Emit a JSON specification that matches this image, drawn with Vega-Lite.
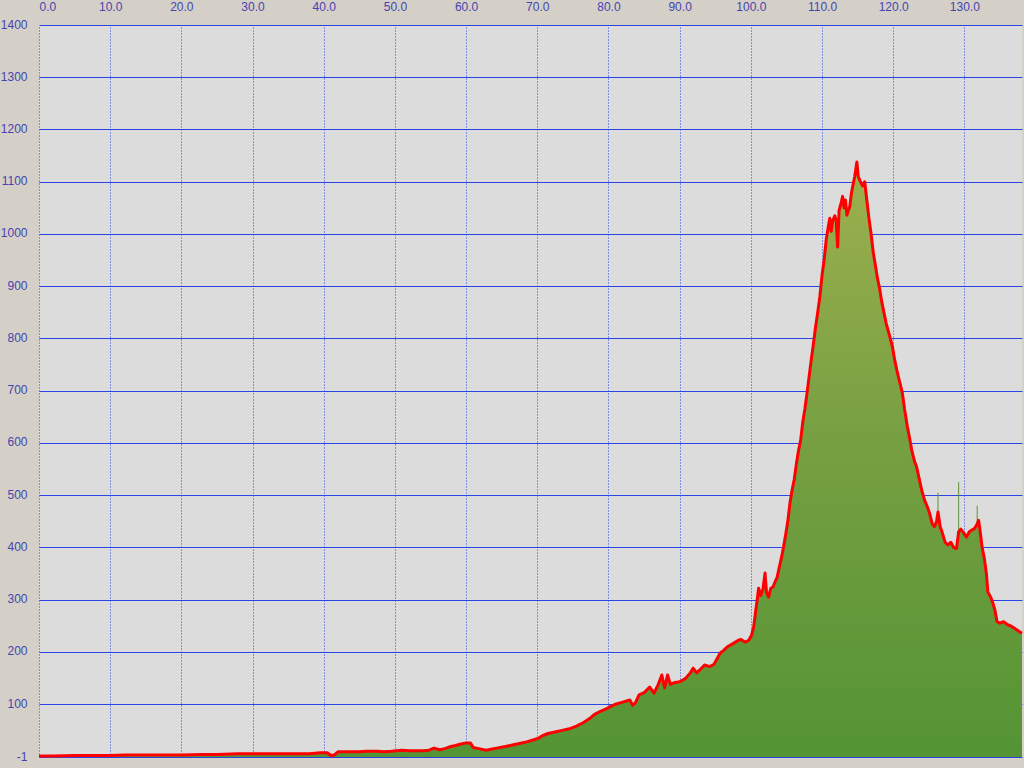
{
  "$schema": "https://vega.github.io/schema/vega-lite/v6.json",
  "width": 983,
  "height": 732,
  "autosize": {"type": "none"},
  "padding": {"left": 39, "top": 25, "right": 2, "bottom": 11},
  "background": "#d4d0c8",
  "config": {
    "view": {"fill": "#dcdcdc", "stroke": null},
    "axis": {
      "labelFont": "Liberation Sans",
      "labelFontSize": 12,
      "labelColor": "#4444b0",
      "domain": false,
      "ticks": false,
      "tickSize": 0,
      "grid": true,
      "gridColor": "#2a44e6",
      "gridOpacity": 1,
      "gridWidth": 1,
      "title": null
    }
  },
  "data": {
    "values": [
      {"km": 0.0, "elev": 1}, {"km": 2.0, "elev": 1}, {"km": 5.0, "elev": 2}, {"km": 8.0, "elev": 2},
      {"km": 10.0, "elev": 2}, {"km": 12.0, "elev": 3}, {"km": 15.0, "elev": 3}, {"km": 18.0, "elev": 3},
      {"km": 20.0, "elev": 3}, {"km": 23.0, "elev": 4}, {"km": 25.0, "elev": 4}, {"km": 28.0, "elev": 5},
      {"km": 30.0, "elev": 5}, {"km": 33.0, "elev": 5}, {"km": 35.0, "elev": 5}, {"km": 38.0, "elev": 5},
      {"km": 39.5, "elev": 7}, {"km": 40.5, "elev": 7}, {"km": 41.0, "elev": 2}, {"km": 41.5, "elev": 3},
      {"km": 42.0, "elev": 9}, {"km": 44.0, "elev": 9}, {"km": 45.0, "elev": 9}, {"km": 46.0, "elev": 10},
      {"km": 47.5, "elev": 10}, {"km": 48.5, "elev": 9}, {"km": 49.5, "elev": 10}, {"km": 50.2, "elev": 11},
      {"km": 51.0, "elev": 12}, {"km": 52.0, "elev": 11}, {"km": 53.0, "elev": 11}, {"km": 54.0, "elev": 11},
      {"km": 54.8, "elev": 12}, {"km": 55.5, "elev": 16}, {"km": 56.3, "elev": 13}, {"km": 57.0, "elev": 15},
      {"km": 57.6, "elev": 18}, {"km": 58.5, "elev": 21}, {"km": 59.3, "elev": 24}, {"km": 60.0, "elev": 26},
      {"km": 60.6, "elev": 26}, {"km": 61.0, "elev": 17}, {"km": 61.8, "elev": 15}, {"km": 62.8, "elev": 12},
      {"km": 63.5, "elev": 14}, {"km": 64.3, "elev": 16}, {"km": 65.5, "elev": 19}, {"km": 66.5, "elev": 22},
      {"km": 67.5, "elev": 25}, {"km": 68.5, "elev": 28}, {"km": 69.5, "elev": 32}, {"km": 70.2, "elev": 35},
      {"km": 70.6, "elev": 39}, {"km": 71.5, "elev": 44}, {"km": 72.5, "elev": 47}, {"km": 73.5, "elev": 50},
      {"km": 74.5, "elev": 53}, {"km": 75.5, "elev": 58}, {"km": 76.5, "elev": 65}, {"km": 77.3, "elev": 72},
      {"km": 78.0, "elev": 80}, {"km": 78.8, "elev": 86}, {"km": 79.5, "elev": 90}, {"km": 80.2, "elev": 95},
      {"km": 81.0, "elev": 100}, {"km": 82.0, "elev": 104}, {"km": 83.0, "elev": 108}, {"km": 83.4, "elev": 98},
      {"km": 83.8, "elev": 103}, {"km": 84.3, "elev": 118}, {"km": 85.0, "elev": 122}, {"km": 85.8, "elev": 133},
      {"km": 86.4, "elev": 121}, {"km": 87.0, "elev": 138}, {"km": 87.5, "elev": 156}, {"km": 87.9, "elev": 131},
      {"km": 88.3, "elev": 156}, {"km": 88.7, "elev": 138}, {"km": 89.2, "elev": 141}, {"km": 90.0, "elev": 143},
      {"km": 90.8, "elev": 149}, {"km": 91.5, "elev": 160}, {"km": 91.9, "elev": 169}, {"km": 92.4, "elev": 160},
      {"km": 93.0, "elev": 168}, {"km": 93.5, "elev": 175}, {"km": 94.2, "elev": 172}, {"km": 94.8, "elev": 176},
      {"km": 95.3, "elev": 188}, {"km": 95.7, "elev": 198}, {"km": 96.2, "elev": 203}, {"km": 96.7, "elev": 210},
      {"km": 97.5, "elev": 216}, {"km": 98.2, "elev": 222}, {"km": 98.6, "elev": 224}, {"km": 99.2, "elev": 219},
      {"km": 99.7, "elev": 222}, {"km": 100.1, "elev": 232}, {"km": 100.4, "elev": 248}, {"km": 100.7, "elev": 280},
      {"km": 100.9, "elev": 300}, {"km": 101.1, "elev": 322}, {"km": 101.4, "elev": 308}, {"km": 101.7, "elev": 320},
      {"km": 102.0, "elev": 351}, {"km": 102.2, "elev": 315}, {"km": 102.5, "elev": 305}, {"km": 102.8, "elev": 322},
      {"km": 103.1, "elev": 324}, {"km": 103.4, "elev": 334}, {"km": 103.7, "elev": 343}, {"km": 104.0, "elev": 362},
      {"km": 104.3, "elev": 380}, {"km": 104.6, "elev": 401}, {"km": 104.9, "elev": 425}, {"km": 105.2, "elev": 450},
      {"km": 105.5, "elev": 485}, {"km": 105.8, "elev": 510}, {"km": 106.1, "elev": 530}, {"km": 106.4, "elev": 560},
      {"km": 106.7, "elev": 585}, {"km": 107.0, "elev": 605}, {"km": 107.3, "elev": 640}, {"km": 107.6, "elev": 665},
      {"km": 107.9, "elev": 696}, {"km": 108.2, "elev": 728}, {"km": 108.5, "elev": 760}, {"km": 108.8, "elev": 790},
      {"km": 109.1, "elev": 822}, {"km": 109.4, "elev": 850}, {"km": 109.7, "elev": 880}, {"km": 110.0, "elev": 920},
      {"km": 110.3, "elev": 950}, {"km": 110.6, "elev": 990}, {"km": 110.9, "elev": 1015}, {"km": 111.1, "elev": 1030},
      {"km": 111.3, "elev": 1005}, {"km": 111.5, "elev": 1025}, {"km": 111.8, "elev": 1035}, {"km": 112.0, "elev": 1025},
      {"km": 112.2, "elev": 975}, {"km": 112.4, "elev": 1045}, {"km": 112.7, "elev": 1060}, {"km": 112.9, "elev": 1072},
      {"km": 113.1, "elev": 1050}, {"km": 113.3, "elev": 1065}, {"km": 113.5, "elev": 1036}, {"km": 113.7, "elev": 1045},
      {"km": 113.9, "elev": 1052}, {"km": 114.1, "elev": 1075}, {"km": 114.3, "elev": 1090}, {"km": 114.6, "elev": 1110},
      {"km": 114.9, "elev": 1138}, {"km": 115.1, "elev": 1110}, {"km": 115.4, "elev": 1100}, {"km": 115.7, "elev": 1092},
      {"km": 116.0, "elev": 1100}, {"km": 116.3, "elev": 1065}, {"km": 116.6, "elev": 1030}, {"km": 116.9, "elev": 1000},
      {"km": 117.2, "elev": 965}, {"km": 117.5, "elev": 940}, {"km": 117.8, "elev": 915}, {"km": 118.1, "elev": 895},
      {"km": 118.4, "elev": 870}, {"km": 118.7, "elev": 850}, {"km": 119.0, "elev": 830}, {"km": 119.3, "elev": 815},
      {"km": 119.6, "elev": 800}, {"km": 119.9, "elev": 784}, {"km": 120.2, "elev": 760}, {"km": 120.6, "elev": 734},
      {"km": 121.0, "elev": 712}, {"km": 121.3, "elev": 695}, {"km": 121.6, "elev": 665}, {"km": 122.0, "elev": 631},
      {"km": 122.3, "elev": 610}, {"km": 122.6, "elev": 587}, {"km": 123.0, "elev": 565}, {"km": 123.3, "elev": 554},
      {"km": 123.7, "elev": 529}, {"km": 124.0, "elev": 510}, {"km": 124.4, "elev": 491}, {"km": 124.8, "elev": 478},
      {"km": 125.1, "elev": 466}, {"km": 125.5, "elev": 445}, {"km": 125.8, "elev": 440}, {"km": 126.1, "elev": 450},
      {"km": 126.3, "elev": 468}, {"km": 126.6, "elev": 440}, {"km": 126.9, "elev": 428}, {"km": 127.3, "elev": 410},
      {"km": 127.7, "elev": 405}, {"km": 128.1, "elev": 410}, {"km": 128.5, "elev": 400}, {"km": 128.9, "elev": 398},
      {"km": 129.2, "elev": 430}, {"km": 129.5, "elev": 435}, {"km": 129.9, "elev": 428}, {"km": 130.3, "elev": 420},
      {"km": 130.7, "elev": 430}, {"km": 131.0, "elev": 433}, {"km": 131.4, "elev": 436}, {"km": 131.8, "elev": 445},
      {"km": 132.0, "elev": 452}, {"km": 132.2, "elev": 433}, {"km": 132.5, "elev": 400}, {"km": 132.8, "elev": 380},
      {"km": 133.1, "elev": 350}, {"km": 133.3, "elev": 315}, {"km": 133.7, "elev": 305}, {"km": 134.0, "elev": 294},
      {"km": 134.3, "elev": 280}, {"km": 134.6, "elev": 258}, {"km": 135.0, "elev": 255}, {"km": 135.5, "elev": 258},
      {"km": 136.0, "elev": 253}, {"km": 136.5, "elev": 250}, {"km": 137.0, "elev": 246}, {"km": 137.6, "elev": 240},
      {"km": 138.1, "elev": 236}
    ]
  },
  "encoding": {
    "x": {
      "field": "km",
      "type": "quantitative",
      "scale": {"domain": [0, 138.1], "nice": false, "zero": false},
      "axis": {
        "orient": "top",
        "values": [0, 10, 20, 30, 40, 50, 60, 70, 80, 90, 100, 110, 120, 130],
        "format": ".1f",
        "labelPadding": 12,
        "labelFlush": true,
        "gridDash": [1, 2]
      }
    },
    "y": {
      "field": "elev",
      "type": "quantitative",
      "scale": {"domain": [-1, 1400], "nice": false, "zero": false},
      "axis": {
        "orient": "left",
        "values": [-1, 100, 200, 300, 400, 500, 600, 700, 800, 900, 1000, 1100, 1200, 1300, 1400],
        "format": "d",
        "labelExpr": "replace(datum.label, '\u2212', '-')",
        "labelPadding": 12,
        "labelOffset": -1
      }
    }
  },
  "layer": [
    {
      "mark": {
        "type": "area",
        "color": {
          "gradient": "linear",
          "x1": 0, "y1": 0, "x2": 0, "y2": 1,
          "stops": [
            {"offset": 0, "color": "#9db04e"},
            {"offset": 0.45, "color": "#78a042"},
            {"offset": 1, "color": "#549434"}
          ]
        }
      },
      "encoding": {"y2": {"datum": -1}}
    },
    {
      "data": {
        "values": [
          {"km": 126.3, "elev": 505, "base": 466},
          {"km": 129.2, "elev": 525, "base": 430},
          {"km": 131.8, "elev": 480, "base": 445}
        ]
      },
      "mark": {"type": "rule", "color": "#5f8f3c", "strokeWidth": 1},
      "encoding": {"y2": {"field": "base"}}
    },
    {
      "mark": {"type": "line", "color": "#ff0000", "strokeWidth": 3, "strokeJoin": "round"},
      "encoding": {}
    }
  ]
}
